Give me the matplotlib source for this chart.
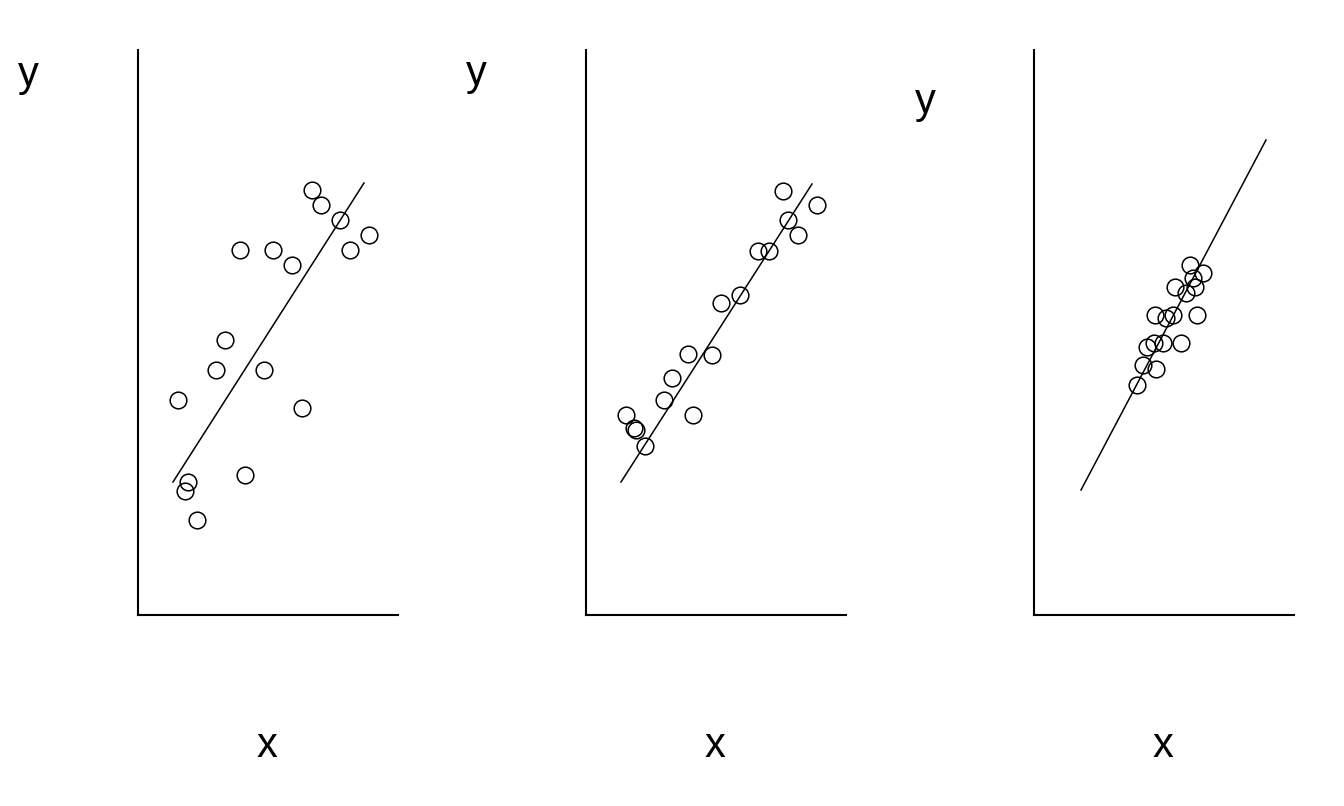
import matplotlib
matplotlib.use("Agg")
import matplotlib.pyplot as plt

plt.rcParams["font.family"] = ["Liberation Sans", "DejaVu Sans"]

# values (axis units: 0..260 across, 0..565 up)
x1 = [174, 183, 202, 231, 212, 102, 135, 154, 87, 78, 126, 40, 164, 107, 50, 47, 59]
y1 = [425, 410, 395, 380, 365, 365, 365, 350, 275, 245, 245, 215, 207, 140, 133, 124, 95]
line1_x = [35, 226]
line1_y = [133, 432]

x2 = [197, 231, 202, 212, 172, 183, 154, 135, 102, 126, 86, 78, 40, 107, 48, 50, 59]
y2 = [424, 410, 395, 380, 364, 364, 320, 312, 261, 260, 237, 215, 200, 200, 187, 185, 169]
line2_x = [35, 226]
line2_y = [133, 431]

x3 = [156, 169, 159, 161, 141, 152, 121, 132, 139, 163, 113, 120, 129, 147, 109, 122, 103]
y3 = [350, 342, 337, 328, 328, 322, 300, 297, 300, 300, 268, 272, 272, 272, 250, 246, 230]
line3_x = [47, 232]
line3_y = [125, 475]

panels = [
    (x1, y1, line1_x, line1_y),
    (x2, y2, line2_x, line2_y),
    (x3, y3, line3_x, line3_y),
]
ylabel_pos = [(28, 86), (476, 85), (925, 113)]
xlabel_pos = [(267, 757), (715, 757), (1163, 757)]
lefts = [138, 586, 1034]

W, H = 1344, 806
fig = plt.figure(figsize=(W / 100, H / 100), dpi=100)

for i, (xs, ys, lx, ly) in enumerate(panels):
    ax = fig.add_axes([lefts[i] / W, (H - 615) / H, 260 / W, 565 / H])
    ax.plot(lx, ly, color="black", lw=1.1)
    ax.plot(xs, ys, "o", ms=12, mfc="none", mec="black", mew=1.1)
    ax.set_xlim(0, 260)
    ax.set_ylim(0, 565)
    ax.set_xticks([])
    ax.set_yticks([])
    for side in ("top", "right"):
        ax.spines[side].set_visible(False)
    for side in ("left", "bottom"):
        ax.spines[side].set_linewidth(1.5)
    px, py = ylabel_pos[i]
    fig.text(px / W, 1 - py / H, "y", fontsize=30, ha="center", va="baseline")
    px, py = xlabel_pos[i]
    fig.text(px / W, 1 - py / H, "x", fontsize=30, ha="center", va="baseline")

fig.savefig("out.png", dpi=100)
